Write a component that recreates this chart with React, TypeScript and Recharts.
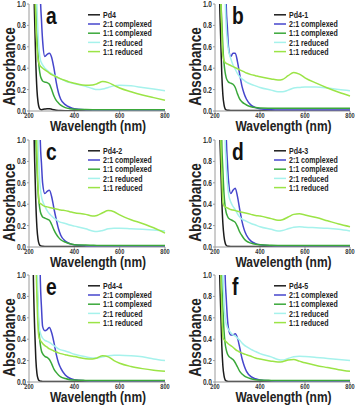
import React from 'react'
import { Line, LineChart, XAxis, YAxis } from 'recharts'

// wavelength grid (nm) shared by every spectrum
const wavelengths = [
  200, 205, 210, 215, 220, 225, 230, 235, 240, 245,
  250, 255, 260, 270, 280, 290, 300, 310, 320, 330,
  340, 360, 380, 400, 450, 480, 500, 525, 550, 575,
  600, 650, 700, 750, 800
]

const panelLetters = ['a', 'b', 'c', 'd', 'e', 'f']
const sampleNames = ['Pd4', 'Pd4-1', 'Pd4-2', 'Pd4-3', 'Pd4-4', 'Pd4-5']
const seriesNames = ['2:1 complexed', '1:1 complexed', '2:1 reduced', '1:1 reduced']
const seriesColors = ['#1c1c1c', '#4646cc', '#3aa83a', '#a6f2ec', '#9be446']
const xTicks = [200, 400, 600, 800]
const yTicks = [0, 0.2, 0.4, 0.6, 0.8, 1.0]

// panel a
const pd4A = [3, 3, 3, 2, 1.3, 0.85, 0.45, 0.2, 0.08, 0.03, 0.015, 0.012, 0.014, 0.018, 0.021, 0.021, 0.017, 0.011, 0.007, 0.005, 0.004, 0.003, 0.003, 0.003, 0.003, 0.003, 0.003, 0.003, 0.003, 0.003, 0.003, 0.003, 0.003, 0.003, 0.003]
const c21A = [3, 3, 3, 3, 3, 3, 3, 3, 3, 3, 1.1, 0.85, 0.66, 0.51, 0.53, 0.54, 0.5, 0.4, 0.27, 0.17, 0.11, 0.06, 0.035, 0.02, 0.01, 0.008, 0.007, 0.007, 0.007, 0.007, 0.007, 0.007, 0.007, 0.007, 0.007]
const c11A = [3, 3, 3, 3, 3, 3, 1.0, 0.72, 0.52, 0.4, 0.33, 0.3, 0.28, 0.27, 0.265, 0.25, 0.2, 0.14, 0.1, 0.075, 0.055, 0.032, 0.022, 0.017, 0.013, 0.012, 0.012, 0.012, 0.012, 0.012, 0.012, 0.012, 0.012, 0.012, 0.012]
const r21A = [3, 3, 3, 3, 3, 3, 1.5, 1.0, 0.72, 0.56, 0.48, 0.45, 0.43, 0.4, 0.38, 0.36, 0.35, 0.335, 0.32, 0.31, 0.3, 0.28, 0.265, 0.255, 0.23, 0.21, 0.2, 0.205, 0.22, 0.235, 0.24, 0.235, 0.22, 0.205, 0.19]
const r11A = [3, 3, 3, 3, 3, 1.3, 0.85, 0.6, 0.48, 0.44, 0.42, 0.41, 0.4, 0.385, 0.37, 0.355, 0.34, 0.33, 0.32, 0.31, 0.3, 0.285, 0.27, 0.26, 0.24, 0.243, 0.255, 0.275, 0.265, 0.24, 0.215, 0.18, 0.15, 0.125, 0.1]

// panel b
const pd4B = [3, 3, 3, 2, 1.1, 0.7, 0.35, 0.15, 0.06, 0.02, 0.01, 0.007, 0.006, 0.005, 0.005, 0.005, 0.004, 0.004, 0.004, 0.004, 0.004, 0.004, 0.004, 0.004, 0.004, 0.004, 0.004, 0.004, 0.004, 0.004, 0.004, 0.004, 0.004, 0.004, 0.004]
const c21B = [3, 3, 3, 3, 3, 3, 3, 3, 3, 1.6, 0.98, 0.78, 0.6, 0.51, 0.54, 0.54, 0.46, 0.34, 0.23, 0.16, 0.11, 0.055, 0.032, 0.02, 0.012, 0.01, 0.01, 0.01, 0.01, 0.01, 0.01, 0.01, 0.01, 0.01, 0.01]
const c11B = [3, 3, 3, 3, 3, 1.15, 0.85, 0.6, 0.45, 0.36, 0.31, 0.285, 0.27, 0.26, 0.25, 0.22, 0.16, 0.11, 0.085, 0.068, 0.056, 0.04, 0.032, 0.028, 0.026, 0.025, 0.025, 0.025, 0.025, 0.025, 0.025, 0.025, 0.025, 0.025, 0.025]
const r21B = [3, 3, 3, 3, 3, 3, 3, 3, 1.5, 1.05, 0.78, 0.65, 0.57, 0.49, 0.43, 0.39, 0.35, 0.32, 0.3, 0.285, 0.27, 0.25, 0.235, 0.22, 0.195, 0.18, 0.18, 0.195, 0.215, 0.22, 0.225, 0.225, 0.215, 0.2, 0.19]
const r11B = [3, 3, 3, 3, 3, 1.2, 0.75, 0.52, 0.47, 0.455, 0.445, 0.44, 0.435, 0.425, 0.415, 0.405, 0.395, 0.385, 0.375, 0.365, 0.355, 0.34, 0.33, 0.32, 0.3, 0.29, 0.295, 0.33, 0.36, 0.345, 0.31, 0.26, 0.215, 0.175, 0.14]

// panel c
const pd4C = [3, 3, 3, 2.2, 1.3, 0.8, 0.42, 0.18, 0.07, 0.025, 0.012, 0.008, 0.006, 0.005, 0.005, 0.004, 0.004, 0.004, 0.004, 0.004, 0.004, 0.004, 0.004, 0.004, 0.004, 0.004, 0.004, 0.004, 0.004, 0.004, 0.004, 0.004, 0.004, 0.004, 0.004]
const c21C = [3, 3, 3, 3, 3, 3, 3, 3, 3, 1.6, 0.98, 0.78, 0.6, 0.5, 0.52, 0.53, 0.47, 0.36, 0.26, 0.17, 0.11, 0.055, 0.032, 0.02, 0.01, 0.008, 0.008, 0.008, 0.008, 0.008, 0.008, 0.008, 0.008, 0.008, 0.008]
const c11C = [3, 3, 3, 3, 3, 3, 1.05, 0.75, 0.52, 0.4, 0.33, 0.3, 0.28, 0.27, 0.26, 0.25, 0.21, 0.16, 0.12, 0.09, 0.068, 0.045, 0.03, 0.022, 0.018, 0.016, 0.015, 0.015, 0.015, 0.015, 0.015, 0.015, 0.015, 0.015, 0.015]
const r21C = [3, 3, 3, 3, 3, 3, 3, 1.6, 1.0, 0.7, 0.55, 0.47, 0.43, 0.38, 0.34, 0.31, 0.29, 0.27, 0.255, 0.24, 0.23, 0.22, 0.205, 0.195, 0.17, 0.15, 0.145, 0.155, 0.17, 0.175, 0.175, 0.17, 0.165, 0.158, 0.15]
const r11C = [3, 3, 3, 3, 3, 3, 1.4, 0.9, 0.55, 0.42, 0.405, 0.4, 0.39, 0.38, 0.375, 0.37, 0.365, 0.36, 0.355, 0.35, 0.345, 0.34, 0.33, 0.32, 0.305, 0.29, 0.295, 0.32, 0.34, 0.33, 0.3, 0.255, 0.22, 0.18, 0.13]

// panel d
const pd4D = [3, 3, 3, 2, 1.2, 0.8, 0.45, 0.22, 0.1, 0.04, 0.015, 0.008, 0.006, 0.005, 0.005, 0.004, 0.004, 0.004, 0.004, 0.004, 0.004, 0.004, 0.004, 0.004, 0.004, 0.004, 0.004, 0.004, 0.004, 0.004, 0.004, 0.004, 0.004, 0.004, 0.004]
const c21D = [3, 3, 3, 3, 3, 3, 3, 3, 3, 3, 1.05, 0.8, 0.62, 0.5, 0.53, 0.55, 0.47, 0.35, 0.24, 0.16, 0.11, 0.055, 0.032, 0.02, 0.012, 0.01, 0.01, 0.01, 0.01, 0.01, 0.01, 0.01, 0.01, 0.01, 0.01]
const c11D = [3, 3, 3, 3, 3, 3, 1.0, 0.72, 0.5, 0.38, 0.32, 0.29, 0.27, 0.255, 0.245, 0.23, 0.19, 0.14, 0.105, 0.075, 0.055, 0.036, 0.025, 0.02, 0.016, 0.015, 0.015, 0.015, 0.015, 0.015, 0.015, 0.015, 0.015, 0.015, 0.015]
const r21D = [3, 3, 3, 3, 3, 3, 3, 3, 1.5, 1.0, 0.75, 0.6, 0.5, 0.42, 0.38, 0.35, 0.31, 0.28, 0.26, 0.25, 0.24, 0.22, 0.205, 0.19, 0.165, 0.15, 0.155, 0.17, 0.185, 0.19, 0.185, 0.18, 0.175, 0.165, 0.15]
const r11D = [3, 3, 3, 3, 3, 1.1, 0.7, 0.42, 0.385, 0.375, 0.37, 0.365, 0.36, 0.35, 0.345, 0.34, 0.335, 0.33, 0.325, 0.32, 0.315, 0.305, 0.295, 0.29, 0.265, 0.25, 0.255, 0.28, 0.305, 0.31, 0.3, 0.275, 0.245, 0.215, 0.19]

// panel e
const pd4E = [3, 3, 3, 1.6, 0.9, 0.5, 0.22, 0.08, 0.03, 0.012, 0.008, 0.006, 0.005, 0.005, 0.004, 0.004, 0.004, 0.004, 0.004, 0.004, 0.004, 0.004, 0.004, 0.004, 0.004, 0.004, 0.004, 0.004, 0.004, 0.004, 0.004, 0.004, 0.004, 0.004, 0.004]
const c21E = [3, 3, 3, 3, 3, 3, 3, 3, 3, 1.6, 0.95, 0.7, 0.52, 0.48, 0.49, 0.51, 0.46, 0.37, 0.26, 0.18, 0.13, 0.065, 0.035, 0.022, 0.012, 0.01, 0.01, 0.01, 0.01, 0.01, 0.01, 0.01, 0.01, 0.01, 0.01]
const c11E = [3, 3, 3, 3, 3, 3, 1.3, 0.95, 0.65, 0.45, 0.35, 0.29, 0.265, 0.24, 0.23, 0.21, 0.17, 0.12, 0.09, 0.065, 0.048, 0.032, 0.022, 0.018, 0.015, 0.014, 0.014, 0.014, 0.014, 0.014, 0.014, 0.014, 0.014, 0.014, 0.014]
const r21E = [3, 3, 3, 3, 3, 3, 3, 1.3, 0.75, 0.52, 0.46, 0.43, 0.41, 0.39, 0.38, 0.37, 0.355, 0.34, 0.325, 0.31, 0.3, 0.29, 0.275, 0.26, 0.235, 0.225, 0.225, 0.235, 0.245, 0.25, 0.25, 0.245, 0.235, 0.215, 0.2]
const r11E = [3, 3, 3, 3, 3, 3, 1.3, 0.8, 0.5, 0.41, 0.39, 0.375, 0.36, 0.34, 0.325, 0.31, 0.3, 0.29, 0.28, 0.272, 0.265, 0.255, 0.245, 0.238, 0.218, 0.215, 0.225, 0.245, 0.235, 0.2, 0.175, 0.145, 0.125, 0.11, 0.1]

// panel f
const pd4F = [3, 3, 3, 2, 1.1, 0.7, 0.35, 0.15, 0.06, 0.02, 0.01, 0.006, 0.005, 0.004, 0.004, 0.004, 0.004, 0.004, 0.004, 0.004, 0.004, 0.004, 0.004, 0.004, 0.004, 0.004, 0.004, 0.004, 0.004, 0.004, 0.004, 0.004, 0.004, 0.004, 0.004]
const c21F = [3, 3, 3, 3, 3, 3, 3, 3, 1.6, 1.0, 0.78, 0.6, 0.5, 0.44, 0.44, 0.45, 0.41, 0.32, 0.22, 0.15, 0.1, 0.05, 0.03, 0.018, 0.01, 0.008, 0.008, 0.008, 0.008, 0.008, 0.008, 0.008, 0.008, 0.008, 0.008]
const c11F = [3, 3, 3, 3, 3, 3, 1.0, 0.7, 0.48, 0.36, 0.3, 0.265, 0.245, 0.225, 0.21, 0.18, 0.14, 0.1, 0.075, 0.058, 0.045, 0.03, 0.022, 0.018, 0.015, 0.014, 0.014, 0.014, 0.014, 0.014, 0.014, 0.014, 0.014, 0.014, 0.014]
const r21F = [3, 3, 3, 3, 3, 3, 1.6, 1.05, 0.75, 0.6, 0.54, 0.51, 0.49, 0.46, 0.44, 0.43, 0.41, 0.39, 0.365, 0.345, 0.33, 0.305, 0.285, 0.265, 0.235, 0.21, 0.205, 0.22, 0.235, 0.24, 0.238, 0.23, 0.22, 0.21, 0.2]
const r11F = [3, 3, 3, 3, 3, 1.2, 0.7, 0.42, 0.395, 0.385, 0.375, 0.365, 0.355, 0.34, 0.325, 0.305, 0.29, 0.28, 0.27, 0.262, 0.255, 0.24, 0.225, 0.215, 0.195, 0.188, 0.19, 0.205, 0.21, 0.195, 0.18, 0.155, 0.135, 0.115, 0.1]

const panelSeries = [
  [pd4A, c21A, c11A, r21A, r11A],
  [pd4B, c21B, c11B, r21B, r11B],
  [pd4C, c21C, c11C, r21C, r11C],
  [pd4D, c21D, c11D, r21D, r11D],
  [pd4E, c21E, c11E, r21E, r11E],
  [pd4F, c21F, c11F, r21F, r11F]
]

// the figure uses a condensed bold face; squeeze Liberation Sans to match
const FONT = "'Liberation Sans', Arial, sans-serif"
const SQUEEZE = 0.8
const frameColor = '#9a9a9a'
const rowTops = [0, 136, 271]
const chartW = 180
const chartH = 135
const plotLeft = 29
const plotTop = 4

function NarrowText(props: {
  x: number
  y: number
  size: number
  anchor?: 'start' | 'middle' | 'end'
  rotate?: number
  fill?: string
  children: React.ReactNode
}) {
  const { x, y, size, anchor = 'start', rotate = 0, fill = '#222' } = props
  return (
    <g transform={`translate(${x} ${y}) rotate(${rotate}) scale(${SQUEEZE} 1)`}>
      <text
        x={0}
        y={0}
        textAnchor={anchor}
        fontSize={size}
        fontWeight="bold"
        fontFamily={FONT}
        fill={fill}
      >
        {props.children}
      </text>
    </g>
  )
}

const XTick = (p: any) => (
  <NarrowText x={p.x} y={p.y + 4} size={7} anchor="middle" fill="#333">
    {p.payload.value}
  </NarrowText>
)

const YTick = (p: any) => (
  <NarrowText x={p.x} y={p.y + 2.9} size={8.2} anchor="end" fill="#333">
    {Number(p.payload.value).toFixed(1)}
  </NarrowText>
)

function Panel({ idx }: { idx: number }) {
  const col = idx % 2
  const row = Math.floor(idx / 2)
  const series = panelSeries[idx]
  const data = wavelengths.map((w, i) => {
    const point: any = { w }
    series.forEach((s, k) => {
      point['s' + k] = s[i]
    })
    return point
  })
  const right = col === 0 ? 15 : 16
  const plotMid = (plotLeft + chartW - right) / 2
  const labels = [sampleNames[idx], ...seriesNames]

  return (
    <div style={{ position: 'absolute', left: col * 186, top: rowTops[row] }}>
      <LineChart
        width={chartW}
        height={chartH}
        data={data}
        margin={{ top: plotTop, right, bottom: 0, left: 0 }}
      >
        <XAxis
          dataKey="w"
          type="number"
          domain={[200, 800]}
          ticks={xTicks}
          height={24}
          tickSize={2}
          tickMargin={1}
          tick={XTick}
          stroke={frameColor}
          interval={0}
        />
        <XAxis
          xAxisId="top"
          dataKey="w"
          type="number"
          domain={[200, 800]}
          orientation="top"
          height={0}
          tick={false}
          tickLine={false}
          stroke={frameColor}
        />
        <YAxis
          domain={[0, 1]}
          ticks={yTicks}
          allowDataOverflow
          width={plotLeft}
          tickSize={2}
          tickMargin={1}
          tick={YTick}
          stroke={frameColor}
          interval={0}
        />
        <YAxis
          yAxisId="right"
          orientation="right"
          domain={[0, 1]}
          width={0}
          tick={false}
          tickLine={false}
          stroke={frameColor}
        />
        {series.map((s, k) => (
          <Line
            key={k}
            dataKey={'s' + k}
            type="monotone"
            stroke={seriesColors[k]}
            strokeWidth={1.5}
            dot={false}
            activeDot={false}
            isAnimationActive={false}
          />
        ))}
        <NarrowText x={15} y={66.5} size={17} anchor="middle" rotate={-90}>
          Absorbance
        </NarrowText>
        <NarrowText x={plotMid + 1} y={131.3} size={15} anchor="middle">
          Wavelength (nm)
        </NarrowText>
        <NarrowText x={plotLeft + 17} y={24} size={24} fill="#111">
          {panelLetters[idx]}
        </NarrowText>
        {labels.map((name, k) => {
          const y = 14.8 + k * 9.2
          return (
            <g key={name}>
              <line
                x1={plotLeft + 59}
                x2={plotLeft + 71}
                y1={y}
                y2={y}
                stroke={seriesColors[k]}
                strokeWidth={1.5}
              />
              <NarrowText x={plotLeft + 74} y={y + 3.1} size={8.8}>
                {name}
              </NarrowText>
            </g>
          )
        })}
      </LineChart>
    </div>
  )
}

export default function App() {
  return (
    <div
      style={{
        position: 'absolute',
        left: 0,
        top: 0,
        width: 358,
        height: 407,
        background: '#fff'
      }}
    >
      {panelLetters.map((_, i) => (
        <Panel key={i} idx={i} />
      ))}
    </div>
  )
}
